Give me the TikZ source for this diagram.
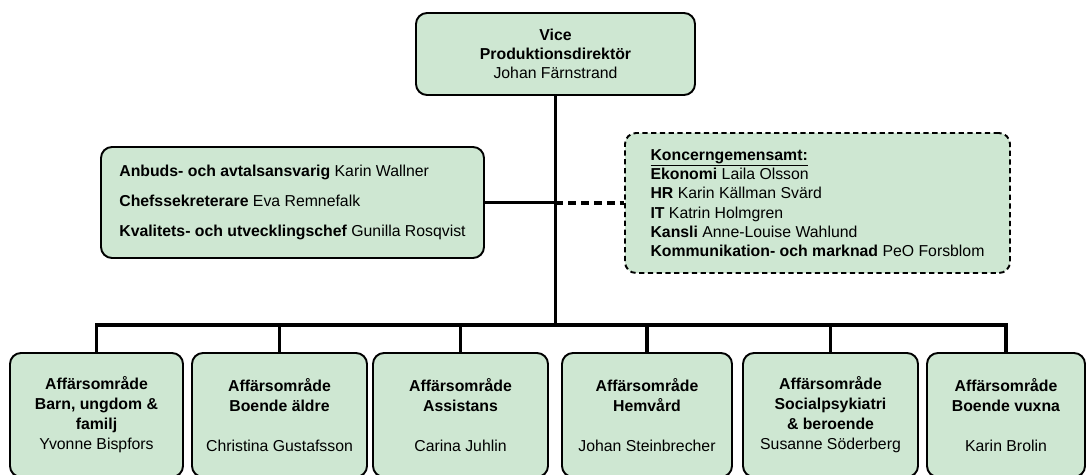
\documentclass[tikz,border=0pt]{standalone}
\usepackage{fontspec}
\setmainfont{Liberation Sans}
\definecolor{boxgreen}{RGB}{206,231,210}
\begin{document}
\begin{tikzpicture}[box/.style={draw=black,line width=1.1pt,fill=boxgreen,rounded corners=0.22cm,
                      align=center,inner sep=0pt,font=\fontsize{9}{11}\selectfont},
                    areabox/.style={box,minimum height=2.48cm,font=\fontsize{9}{11.4}\selectfont},
                    wire/.style={line width=1.8pt}]
            \path[use as bounding box,clip] (0,0) rectangle (21.74,9.5);

            % ledning
            \node[box,minimum width=5.58cm,minimum height=1.64cm] (vd) at (11.11,8.42)
                {\textbf{Vice}\\\textbf{Produktionsdirektör}\\Johan Färnstrand};

            % stab
            \node[box,align=left,minimum width=7.66cm,minimum height=2.22cm,
                  font=\fontsize{9}{17}\selectfont] (stab) at (5.85,5.45)
                {\textbf{Anbuds- och avtalsansvarig} Karin Wallner\\
                 \textbf{Chefssekreterare} Eva Remnefalk\\
                 \textbf{Kvalitets- och utvecklingschef} Gunilla Rosqvist};

            \node[box,dashed,dash pattern=on 3pt off 2pt,align=left,minimum width=7.7cm,
                  minimum height=2.8cm] (koncern) at (16.35,5.44)
                {\textbf{\underline{Koncerngemensamt:}}\\
                 \textbf{Ekonomi} Laila Olsson\\
                 \textbf{HR} Karin Källman Svärd\\
                 \textbf{IT} Katrin Holmgren\\
                 \textbf{Kansli} Anne-Louise Wahlund\\
                 \textbf{Kommunikation- och marknad} PeO Forsblom};

            % affärsområden
            \node[areabox,minimum width=3.46cm] (ao1) at (1.93,1.2)
                {\textbf{Affärsområde}\\\textbf{Barn, ungdom \&}\\\textbf{familj}\\Yvonne Bispfors};
            \node[areabox,minimum width=3.5cm] (ao2) at (5.59,1.2)
                {\textbf{Affärsområde}\\\textbf{Boende äldre}\\[11.4pt]Christina Gustafsson};
            \node[areabox,minimum width=3.5cm] (ao3) at (9.21,1.2)
                {\textbf{Affärsområde}\\\textbf{Assistans}\\[11.4pt]Carina Juhlin};
            \node[areabox,minimum width=3.4cm] (ao4) at (12.94,1.2)
                {\textbf{Affärsområde}\\\textbf{Hemvård}\\[11.4pt]Johan Steinbrecher};
            \node[areabox,minimum width=3.5cm] (ao5) at (16.61,1.2)
                {\textbf{Affärsområde}\\\textbf{Socialpsykiatri}\\\textbf{\& beroende}\\Susanne Söderberg};
            \node[areabox,minimum width=3.16cm] (ao6) at (20.12,1.2)
                {\textbf{Affärsområde}\\\textbf{Boende vuxna}\\[11.4pt]Karin Brolin};

            \coordinate (bus) at (0,3.0);

            \draw[wire] (vd.south) -- (vd.south |- bus);
            \draw[wire] (stab.east) -- (stab.east -| vd.south);
            \draw[line width=2.4pt,dash pattern=on 4.5pt off 2.8pt] (vd.south |- koncern.west) -- (koncern.west);
            \draw[wire] (ao1.north) |- (bus -| ao6.north) -- (ao6.north);
            \draw[wire] (ao2.north) -- (ao2.north |- bus);
            \draw[wire] (ao3.north) -- (ao3.north |- bus);
            \draw[wire] (ao4.north) -- (ao4.north |- bus);
            \draw[wire] (ao5.north) -- (ao5.north |- bus);
\end{tikzpicture}
\end{document}
